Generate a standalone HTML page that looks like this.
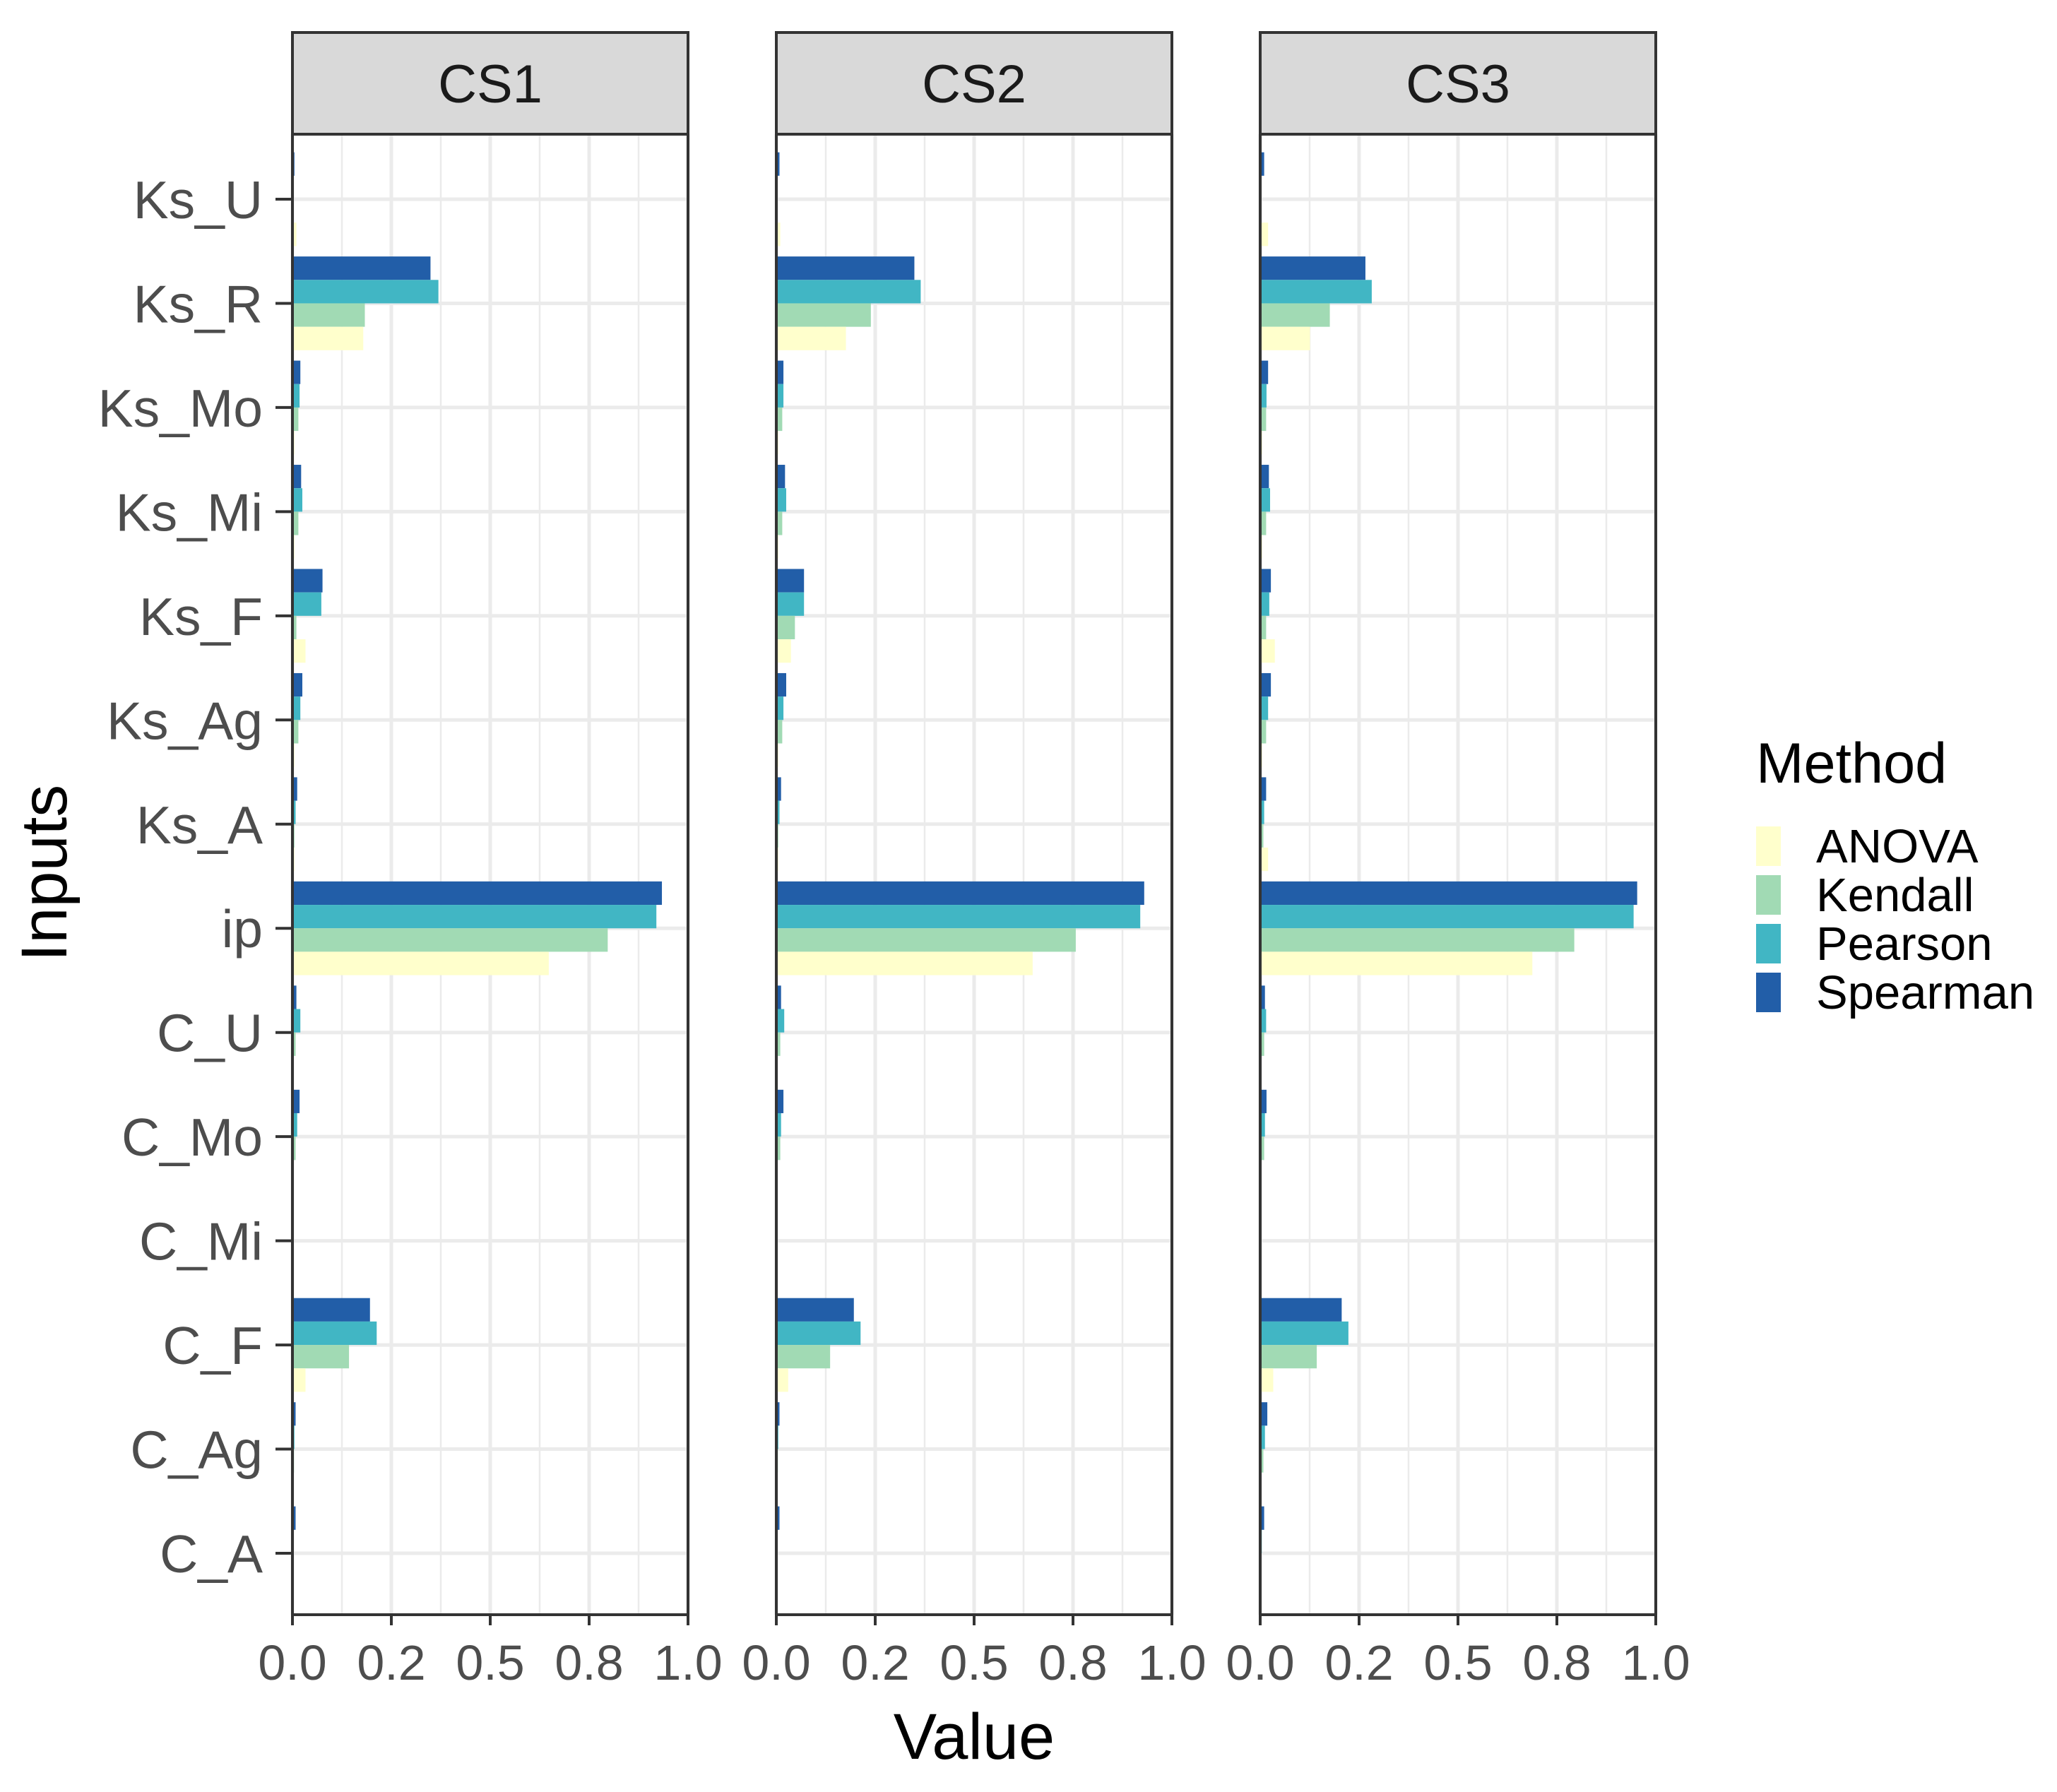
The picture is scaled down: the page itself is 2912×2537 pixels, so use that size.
<!DOCTYPE html>
<html><head><meta charset="utf-8"><style>html,body{margin:0;padding:0;background:#fff}svg{display:block}</style></head>
<body>
<svg id="chart" width="2912" height="2537" viewBox="0 0 2912 2537" xmlns="http://www.w3.org/2000/svg" font-family="Liberation Sans, Arial, sans-serif"></svg>
<script>
const categories = ["Ks_U","Ks_R","Ks_Mo","Ks_Mi","Ks_F","Ks_Ag","Ks_A","ip","C_U","C_Mo","C_Mi","C_F","C_Ag","C_A"];
const panels = ["CS1","CS2","CS3"];
const methods = ["Spearman","Pearson","Kendall","ANOVA"];
const legendOrder = ["ANOVA","Kendall","Pearson","Spearman"];
const xTickValues = [0,0.25,0.5,0.75,1.0];
const xTickLabels = ["0.0","0.2","0.5","0.8","1.0"];
const cs1Spearman = [0.005,0.349,0.02,0.022,0.076,0.025,0.012,0.934,0.01,0.018,0.002,0.196,0.008,0.008];
const cs1Pearson  = [0.002,0.369,0.018,0.025,0.073,0.02,0.008,0.920,0.02,0.012,0.002,0.213,0.005,0.003];
const cs1Kendall  = [0.002,0.183,0.015,0.015,0.01,0.015,0.005,0.797,0.008,0.008,0.002,0.143,0.004,0.003];
const cs1Anova    = [0.01,0.179,0.005,0.005,0.033,0.005,0.005,0.648,0.003,0.003,0.002,0.033,0.003,0.002];
const cs2Spearman = [0.008,0.349,0.018,0.022,0.07,0.025,0.012,0.930,0.012,0.018,0.002,0.196,0.008,0.008];
const cs2Pearson  = [0.002,0.365,0.018,0.025,0.07,0.018,0.008,0.920,0.02,0.012,0.002,0.213,0.005,0.003];
const cs2Kendall  = [0.002,0.239,0.015,0.015,0.047,0.015,0.005,0.757,0.01,0.01,0.002,0.136,0.004,0.003];
const cs2Anova    = [0.01,0.176,0.005,0.005,0.037,0.005,0.005,0.648,0.003,0.003,0.002,0.03,0.003,0.002];
const cs3Spearman = [0.01,0.266,0.02,0.022,0.027,0.027,0.015,0.953,0.012,0.016,0.002,0.206,0.018,0.01];
const cs3Pearson  = [0.003,0.282,0.016,0.025,0.023,0.02,0.01,0.944,0.015,0.012,0.002,0.223,0.012,0.004];
const cs3Kendall  = [0.003,0.176,0.015,0.015,0.015,0.015,0.008,0.794,0.01,0.01,0.002,0.143,0.008,0.003];
const cs3Anova    = [0.02,0.126,0.005,0.005,0.037,0.005,0.02,0.688,0.003,0.003,0.002,0.033,0.003,0.002];

const seriesByPanel = [
  {Spearman:cs1Spearman,Pearson:cs1Pearson,Kendall:cs1Kendall,ANOVA:cs1Anova},
  {Spearman:cs2Spearman,Pearson:cs2Pearson,Kendall:cs2Kendall,ANOVA:cs2Anova},
  {Spearman:cs3Spearman,Pearson:cs3Pearson,Kendall:cs3Kendall,ANOVA:cs3Anova}
];
const colors = {ANOVA:"#ffffcc",Kendall:"#a1dab4",Pearson:"#41b6c4",Spearman:"#225ea8"};

const svg = document.getElementById('chart');
const NS = "http://www.w3.org/2000/svg";
function mk(tag, attrs, parent){const e=document.createElementNS(NS,tag);for(const k in attrs)e.setAttribute(k,attrs[k]);(parent||svg).appendChild(e);return e;}

const panelLeft = [414,1099,1784];
const panelW = 560;
const plotTop = 190, plotBot = 2286;
const stripTop = 46, stripBot = 190;
const yFirst = 282, yStep = (2199-282)/13;
const yScale = i => yFirst + i*yStep;
const bandH = yStep*0.9, barH = bandH/4;

panels.forEach((p, pi) => {
  const x0 = panelLeft[pi];
  const xScale = v => x0 + v*panelW;
  const g = mk('g',{});
  
  
  const strip = mk('rect',{x:x0,y:stripTop,width:panelW,height:stripBot-stripTop,fill:"#d9d9d9",stroke:"#333",'stroke-width':4},g);
  
  
  const st = mk('text',{x:x0+panelW/2,y:stripTop+(stripBot-stripTop)/2+27,'text-anchor':'middle','font-size':76,fill:"#1a1a1a"},g);
  st.textContent = p;
  
  
  for(let k=0;k<4;k++){
    const v=(xTickValues[k]+xTickValues[k+1])/2;
    mk('line',{x1:xScale(v),x2:xScale(v),y1:plotTop,y2:plotBot,stroke:"#ebebeb",'stroke-width':2.5},g);
  }
  xTickValues.forEach(v=>{
    const gl = mk('line',{x1:xScale(v),x2:xScale(v),y1:plotTop,y2:plotBot,stroke:"#ebebeb",'stroke-width':5},g);
    
    
  });
  categories.forEach((c,i)=>{
    mk('line',{x1:x0,x2:x0+panelW,y1:yScale(i),y2:yScale(i),stroke:"#ebebeb",'stroke-width':5},g);
  });
  categories.forEach((c,i)=>{
    methods.forEach((m,mi)=>{
      const v = seriesByPanel[pi][m][i];
      const r = mk('rect',{x:xScale(0),y:yScale(i)-bandH/2+mi*barH,width:Math.max(0,xScale(v)-xScale(0)),height:barH,fill:colors[m]},g);
      
      
    });
  });
  const b = mk('rect',{x:x0,y:plotTop,width:panelW,height:plotBot-plotTop,fill:"none",stroke:"#333",'stroke-width':4},g);
  
  
  xTickValues.forEach((v,k)=>{
    mk('line',{x1:xScale(v),x2:xScale(v),y1:plotBot,y2:plotBot+15,stroke:"#333",'stroke-width':4},g);
    const t = mk('text',{x:xScale(v),y:2378,'text-anchor':'middle','font-size':70,fill:"#4d4d4d"},g);
    t.textContent = xTickLabels[k];
    
    
  });
});
categories.forEach((c,i)=>{
  mk('line',{x1:390,x2:414,y1:yScale(i),y2:yScale(i),stroke:"#333",'stroke-width':4});
  const t = mk('text',{x:372,y:yScale(i)+27,'text-anchor':'end','font-size':75,fill:"#4d4d4d"});
  t.textContent = c;
  
  
});
const xt = mk('text',{x:1379,y:2490,'text-anchor':'middle','font-size':92,fill:"#000"});
xt.textContent="Value";


const yt = mk('text',{x:94,y:1236,'text-anchor':'middle','font-size':92,fill:"#000",transform:"rotate(-90 94 1236)"});
yt.textContent="Inputs";


const lt = mk('text',{x:2486,y:1108,'font-size':81,fill:"#000"});
lt.textContent="Method";


legendOrder.forEach((m,k)=>{
  const y0 = 1170 + k*69;
  const g = mk('g',{});
  
  
  mk('rect',{x:2486,y:y0,width:35,height:56,fill:colors[m]},g);
  const t = mk('text',{x:2571,y:y0+51,'font-size':67,fill:"#000"},g);
  t.textContent=m;
});
</script>
</body></html>
